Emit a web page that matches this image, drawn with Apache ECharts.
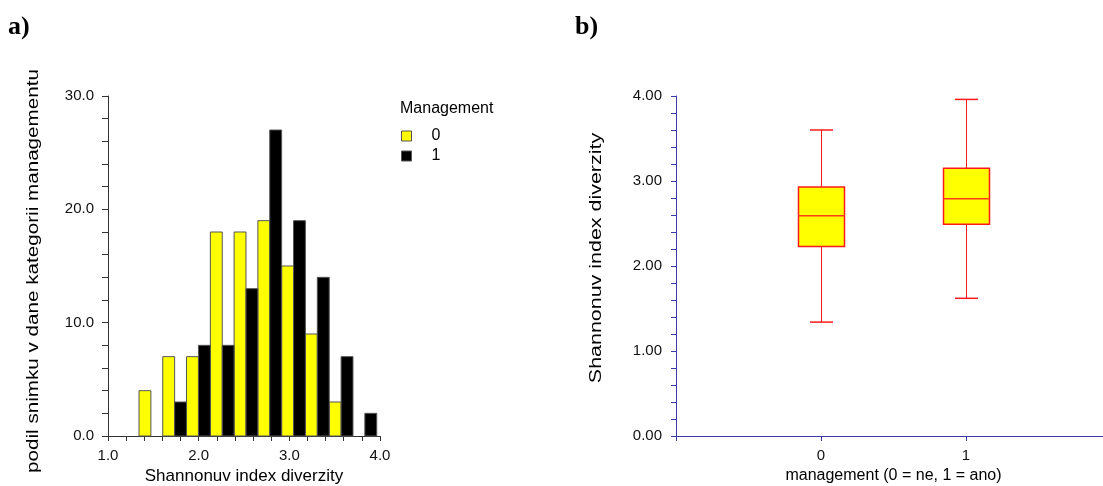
<!DOCTYPE html>
<html>
<head>
<meta charset="utf-8">
<script src="https://cdn.jsdelivr.net/npm/echarts@6/dist/echarts.min.js"></script>
<style>
  html, body { margin: 0; padding: 0; background: #fff; }
  #chart { width: 1103px; height: 486px; }
</style>
</head>
<body>
<div id="chart"></div>
<script>
// Histogram (a): bin edges of Shannon diversity and share of plots (%) per management group
const binEdges = [1.342, 1.604, 1.866, 2.129, 2.391, 2.653, 2.915, 3.177, 3.440, 3.702, 3.964];
const share0 = [4, 7, 7, 18, 18, 19, 15, 9, 3, 0];
const share1 = [0, 3, 8, 8, 13, 27, 19, 14, 7, 2];
const groupNames = ['0', '1'];

// Box plot (b): five-number summary per management group
const boxGroups = [0, 1];
const whiskerLow = [1.34, 1.62];
const quart1 = [2.23, 2.49];
const medians = [2.59, 2.79];
const quart3 = [2.93, 3.15];
const whiskerHigh = [3.60, 3.96];

const FONT = 'Liberation Sans, Arial, sans-serif';

// each bin is split: left half for group 0, right half for group 1
const histData0 = [], histData1 = [];
for (let i = 0; i < share0.length; i++) {
  const lo = binEdges[i], hi = binEdges[i + 1], mid = (lo + hi) / 2;
  histData0.push([lo, mid, share0[i]]);
  histData1.push([mid, hi, share1[i]]);
}
const boxData = boxGroups.map((g, i) => [g, whiskerLow[i], quart1[i], medians[i], quart3[i], whiskerHigh[i]]);

function histBar(fill) {
  return function (params, api) {
    const v = api.value(2);
    if (!v) return null;
    const p0 = api.coord([api.value(0), v]);
    const p1 = api.coord([api.value(1), 0]);
    return {
      type: 'rect',
      shape: { x: p0[0], y: p0[1], width: p1[0] - p0[0], height: p1[1] - p0[1] },
      style: { fill: fill, stroke: '#555', lineWidth: 1 }
    };
  };
}

function boxItem(params, api) {
  const x = api.value(0);
  const lo = api.coord([x, api.value(1)]);
  const b1 = api.coord([x, api.value(2)]);
  const md = api.coord([x, api.value(3)]);
  const b3 = api.coord([x, api.value(4)]);
  const hi = api.coord([x, api.value(5)]);
  const cx = Math.round(lo[0]) + 0.5;
  const halfBox = 23, halfCap = 11.5;
  const red = '#ff1a1a';
  const line = (x1, y1, x2, y2, w, c) => ({
    type: 'line', shape: { x1, y1, x2, y2 }, style: { stroke: c || red, lineWidth: w || 1 }
  });
  return {
    type: 'group',
    children: [
      line(cx, hi[1], cx, b3[1]),
      line(cx, b1[1], cx, lo[1]),
      line(cx - halfCap, hi[1], cx + halfCap, hi[1], 1.5),
      line(cx - halfCap, lo[1], cx + halfCap, lo[1], 1.5),
      {
        type: 'rect',
        shape: { x: cx - halfBox, y: b3[1], width: halfBox * 2, height: b1[1] - b3[1] },
        style: { fill: '#ffff00', stroke: red, lineWidth: 1.5 }
      },
      line(cx - halfBox, md[1], cx + halfBox, md[1], 1.5, '#ff3c1a')
    ]
  };
}

const grayAxis = '#333';
const navy = '#3b3ba3';

const option = {
  animation: false,
  backgroundColor: '#fff',
  textStyle: { fontFamily: FONT },
  grid: [
    { left: 108, right: 723, top: 96, bottom: 50, outerBoundsMode: 'none', containLabel: false },
    { left: 676, right: -8, top: 96, bottom: 50, outerBoundsMode: 'none', containLabel: false }
  ],
  legend: {
    data: groupNames,
    orient: 'vertical',
    left: 401,
    top: 128,
    padding: 0,
    icon: 'rect',
    itemWidth: 10,
    itemHeight: 10,
    itemGap: 4,
    selectedMode: false,
    itemStyle: { borderColor: '#555', borderWidth: 1 },
    textStyle: { fontFamily: FONT, fontSize: 16, color: '#000', lineHeight: 16, padding: [0, 0, 0, 15] }
  },
  xAxis: [
    {
      gridIndex: 0, type: 'value', min: 1, max: 4, interval: 1,
      name: 'Shannonuv index diverzity', nameLocation: 'middle', nameGap: 29,
      nameTextStyle: { fontFamily: FONT, fontSize: 17, color: '#000' },
      axisLine: { show: true, onZero: false, lineStyle: { color: grayAxis, width: 1 } },
      axisTick: { show: true, length: 5, lineStyle: { color: grayAxis } },
      minorTick: { show: true, splitNumber: 5, length: 5, lineStyle: { color: grayAxis } },
      axisLabel: { fontFamily: FONT, fontSize: 15, color: '#111', margin: 12, formatter: v => v.toFixed(1) },
      splitLine: { show: false }, minorSplitLine: { show: false }
    },
    {
      gridIndex: 1, type: 'value', min: -1, max: 2, interval: 1,
      name: 'management (0 = ne, 1 = ano)', nameLocation: 'middle', nameGap: 29,
      nameTextStyle: { fontFamily: FONT, fontSize: 16, color: '#000' },
      axisLine: { show: true, onZero: false, lineStyle: { color: navy, width: 1 } },
      axisTick: { show: true, length: 5, lineStyle: { color: navy } },
      axisLabel: {
        fontFamily: FONT, fontSize: 15, color: '#111', margin: 12,
        formatter: v => (v === 0 || v === 1) ? String(v) : ''
      },
      splitLine: { show: false }
    }
  ],
  yAxis: [
    {
      gridIndex: 0, type: 'value', min: 0, max: 30, interval: 10,
      axisLine: { show: true, onZero: false, lineStyle: { color: grayAxis, width: 1 } },
      axisTick: { show: true, length: 6, lineStyle: { color: grayAxis } },
      minorTick: { show: true, splitNumber: 5, length: 6, lineStyle: { color: grayAxis } },
      axisLabel: { fontFamily: FONT, fontSize: 15, color: '#111', margin: 14, formatter: v => v.toFixed(1) },
      splitLine: { show: false }, minorSplitLine: { show: false }
    },
    {
      gridIndex: 1, type: 'value', min: 0, max: 4, interval: 1,
      axisLine: { show: true, onZero: false, lineStyle: { color: navy, width: 1 } },
      axisTick: { show: true, length: 5, lineStyle: { color: navy } },
      minorTick: { show: true, splitNumber: 5, length: 5, lineStyle: { color: navy } },
      axisLabel: { fontFamily: FONT, fontSize: 15, color: '#111', margin: 14, formatter: v => v.toFixed(2) },
      splitLine: { show: false }, minorSplitLine: { show: false }
    }
  ],
  series: [
    {
      name: groupNames[0], type: 'custom', xAxisIndex: 0, yAxisIndex: 0,
      itemStyle: { color: '#ffff00' },
      encode: { x: [0, 1], y: 2 },
      renderItem: histBar('#ffff00'),
      data: histData0
    },
    {
      name: groupNames[1], type: 'custom', xAxisIndex: 0, yAxisIndex: 0,
      itemStyle: { color: '#000000' },
      encode: { x: [0, 1], y: 2 },
      renderItem: histBar('#000000'),
      data: histData1
    },
    {
      name: 'management', type: 'custom', xAxisIndex: 1, yAxisIndex: 1,
      encode: { x: 0, y: [1, 2, 3, 4, 5] },
      renderItem: boxItem,
      data: boxData
    }
  ],
  graphic: [
    { type: 'text', left: 8, top: 14,
      style: { text: 'a)', font: 'bold 26px "Liberation Serif", "Times New Roman", serif', fill: '#000' } },
    { type: 'text', left: 575, top: 14,
      style: { text: 'b)', font: 'bold 26px "Liberation Serif", "Times New Roman", serif', fill: '#000' } },
    { type: 'text', x: 400, y: 101,
      style: { text: 'Management', font: '16px ' + FONT, fill: '#000', textVerticalAlign: 'top' } },
    // vertical axis titles, stretched along the text direction
    { type: 'text', x: 34, y: 271, rotation: Math.PI / 2, scaleX: 1.29,
      style: { text: 'podil snimku v dane kategorii managementu', font: '16px ' + FONT, fill: '#000',
               textAlign: 'center', textVerticalAlign: 'middle' } },
    { type: 'text', x: 597, y: 258, rotation: Math.PI / 2, scaleX: 1.34,
      style: { text: 'Shannonuv index diverzity', font: '16px ' + FONT, fill: '#000',
               textAlign: 'center', textVerticalAlign: 'middle' } }
  ]
};

const chart = echarts.init(document.getElementById('chart'), null, { renderer: 'canvas' });
chart.setOption(option);
</script>
</body>
</html>
